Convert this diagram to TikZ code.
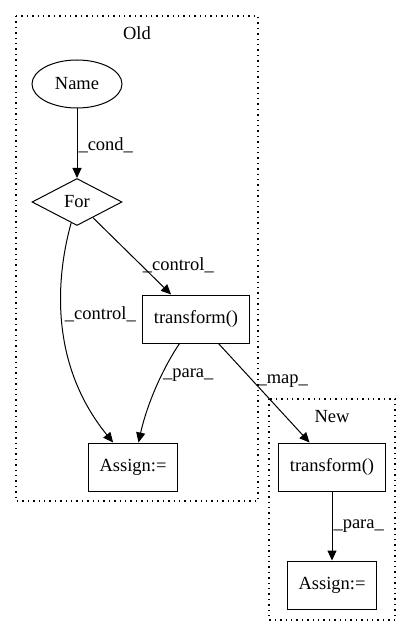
\documentclass[tikz,border=0pt]{standalone}
\usepackage{fontspec}
\setmainfont{Liberation Serif}
\usetikzlibrary{shapes.geometric, arrows.meta}

\begin{document}
\begin{tikzpicture}[x=1pt, y=-1pt, line width=1pt,
  >={Triangle[length=10pt, width=9pt]},
  every node/.style = {font=\fontsize{18.5}{21}\selectfont},
  box/.style = {shape=rectangle, draw, inner xsep=11.5pt, minimum height=48pt},
  cluster/.style = {draw, line width=1.4pt, dash pattern=on 1.4pt off 4pt},
  lbl/.style = {anchor=west, inner sep=1pt}]
  \useasboundingbox (0,0) rectangle (411,636);
  \draw[cluster] (16,16) rectangle (258,501);
  \draw[cluster] (269,399) rectangle (395,620);
  \node (old) at (137,33) {Old};
  \node (new) at (332,417) {New};
  \node[ellipse, draw, inner sep=0pt, minimum width=90pt, minimum height=48pt] (name) at (77,84) {Name};
  \node[diamond, draw, inner sep=0pt, aspect=1.9, minimum width=90pt, minimum height=47pt] (for) at (77,202) {For};
  \node[box] (trold) at (196,319) {transform()};
  \node[box] (asold) at (133,467) {Assign:=};
  \node[box] (trnew) at (332,467) {transform()};
  \node[box] (asnew) at (332,585) {Assign:=};
  \draw[->] (name) -- node[lbl, yshift=-2pt] {\_cond\_} (for);
  \draw[->] (for) -- node[lbl, pos=0.62] {\_control\_} (trold);
  \draw[->] (for) .. controls (58,270) and (46,360) .. node[lbl, pos=0.47, xshift=2pt, yshift=-2pt] {\_control\_} (asold);
  \draw[->] (trold) .. controls (165,365) and (148,400) .. node[lbl, pos=0.4] {\_para\_} (asold);
  \draw[->] (trold) -- node[lbl, pos=0.38, xshift=3pt] {\_map\_} (trnew);
  \draw[->] (trnew) -- node[lbl] {\_para\_} (asnew);
\end{tikzpicture}
\end{document}
